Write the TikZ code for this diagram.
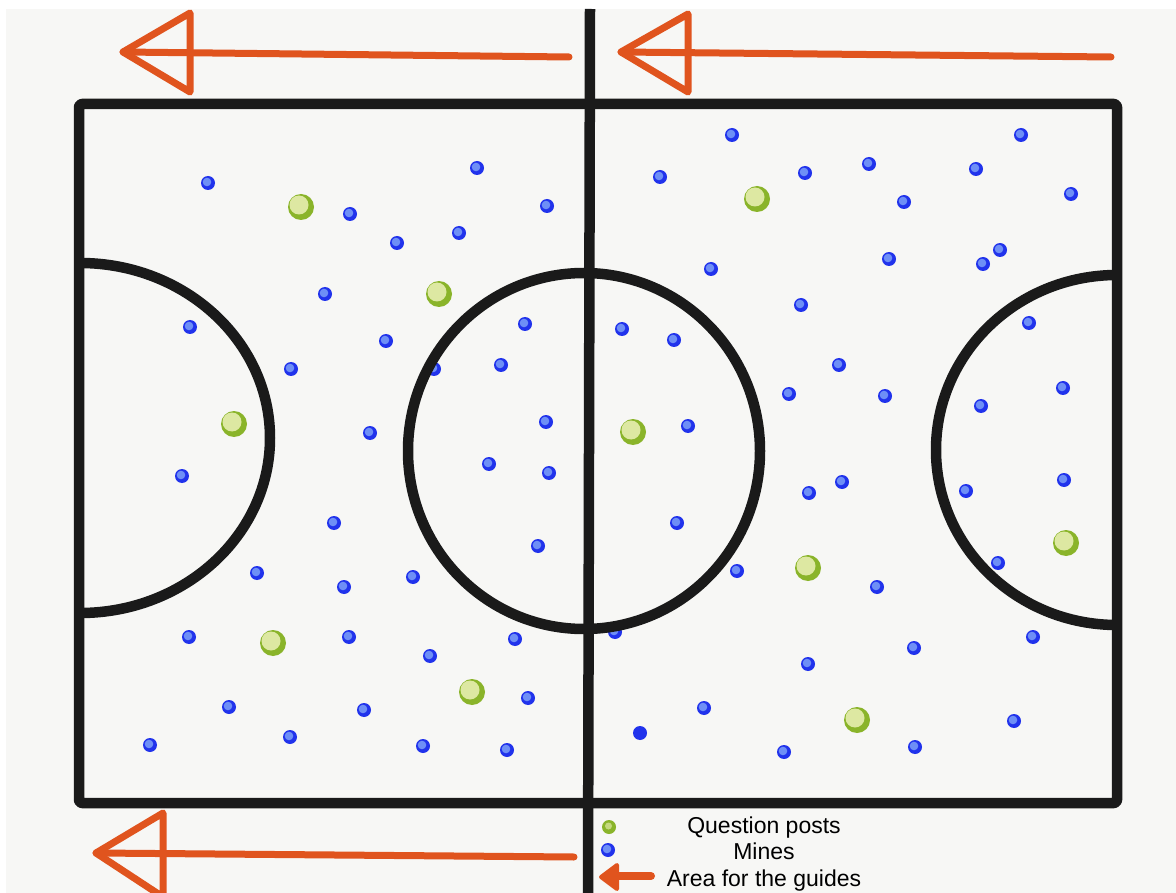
\documentclass[tikz,border=0pt]{standalone}
\usepackage{fontspec}
\setmainfont{Liberation Sans}
\definecolor{bg}{HTML}{F7F7F5}
\definecolor{ink}{HTML}{1A1A1A}
\definecolor{orng}{HTML}{E0541E}
\definecolor{mineout}{HTML}{2133EC}
\definecolor{minein}{HTML}{6E8FF6}
\definecolor{greenout}{HTML}{8AB42A}
\definecolor{greenin}{HTML}{DDE8A2}
\tikzset{
  fieldline/.style={draw=ink, line width=10.5pt, line cap=round, line join=round},
  guidearrow/.style={draw=orng, line width=7pt, line cap=round, line join=round},
  legendtext/.style={font=\fontsize{23pt}{27pt}\selectfont, anchor=base, inner sep=0pt, text=black},
}
\newcommand{\minedot}[2]{\fill[mineout] (#1,#2) circle (7pt); \fill[minein] ({#1-1},{#2-1}) circle (4.3pt);}
\newcommand{\postdot}[2]{\fill[greenout] (#1,#2) circle (13pt); \fill[greenin] ({#1-2},{#2-2}) circle (9.5pt);}
\begin{document}
\begin{tikzpicture}[x=1pt, y=-1pt]
\useasboundingbox (0,0) rectangle (1176,893);
\fill[white] (0,0) rectangle (1176,893);
\fill[bg] (6,9) rectangle (1176,893);

% dots partly hidden by the lines
\minedot{434}{369}
\minedot{615}{632}

% field
\draw[fieldline, rounded corners=3pt] (79,104) rectangle (1117,803);
\draw[fieldline, line cap=butt] (590,9) -- (588,893);
\draw[fieldline] (584,451) ellipse [x radius=176pt, y radius=178pt];
\draw[fieldline, line cap=butt] (80,263) arc [start angle=90, end angle=-90, x radius=190pt, y radius=175pt];
\draw[fieldline, line cap=butt] (1117,275) arc [start angle=90, end angle=270, x radius=181pt, y radius=175pt];

% arrows for the guides
\draw[guidearrow] (569,57) -- (123,52);
\draw[guidearrow] (190,13) -- (123,52) -- (190,92) -- cycle;
\draw[guidearrow] (1111,57) -- (621,52);
\draw[guidearrow] (688,14) -- (621,52) -- (688,92) -- cycle;
\draw[guidearrow] (574,857) -- (96,853);
\draw[guidearrow] (163,897) -- (163,813) -- (96,853) -- (163,897);

% mines
\foreach \px/\py in {208/183,477/168,547/206,350/214,397/243,459/233,325/294,190/327,525/324,386/341,291/369,501/365,370/433,546/422,182/476,489/464,549/473,334/523,538/546,257/573,344/587,413/577,189/637,349/637,515/639,430/656,229/707,364/710,528/698,150/745,290/737,423/746,507/750,
732/135,1021/135,660/177,805/173,869/164,976/169,1071/194,904/202,1000/250,983/264,889/259,711/269,801/305,1029/323,622/329,674/340,839/365,789/394,885/396,1063/388,981/406,688/426,842/482,809/493,966/491,1064/480,677/523,998/563,737/571,877/587,914/648,1033/637,808/664,704/708,1014/721,784/752,915/747}
  {\minedot{\px}{\py}}
\fill[mineout] (640,733) circle (7pt);

% question posts
\foreach \px/\py in {301/207,439/294,234/424,273/643,472/692,757/199,633/432,808/568,1066/543,857/720}
  {\postdot{\px}{\py}}

% legend
\fill[greenout] (609,827) circle (7pt); \fill[greenin!70!greenout] (608.5,826) circle (3.5pt);
\minedot{608}{850}
\fill[orng, draw=orng, line width=4pt, line join=round] (601,877) -- (617,865) -- (617,889) -- cycle;
\draw[orng, line width=8pt, line cap=round] (614,876) -- (651,876);
\node[legendtext] (q) at (764,833) {Question posts};
\node[legendtext] (m) at (764,859) {Mines};
\node[legendtext] (a) at (764,886) {Area for the guides};
\end{tikzpicture}
\end{document}
